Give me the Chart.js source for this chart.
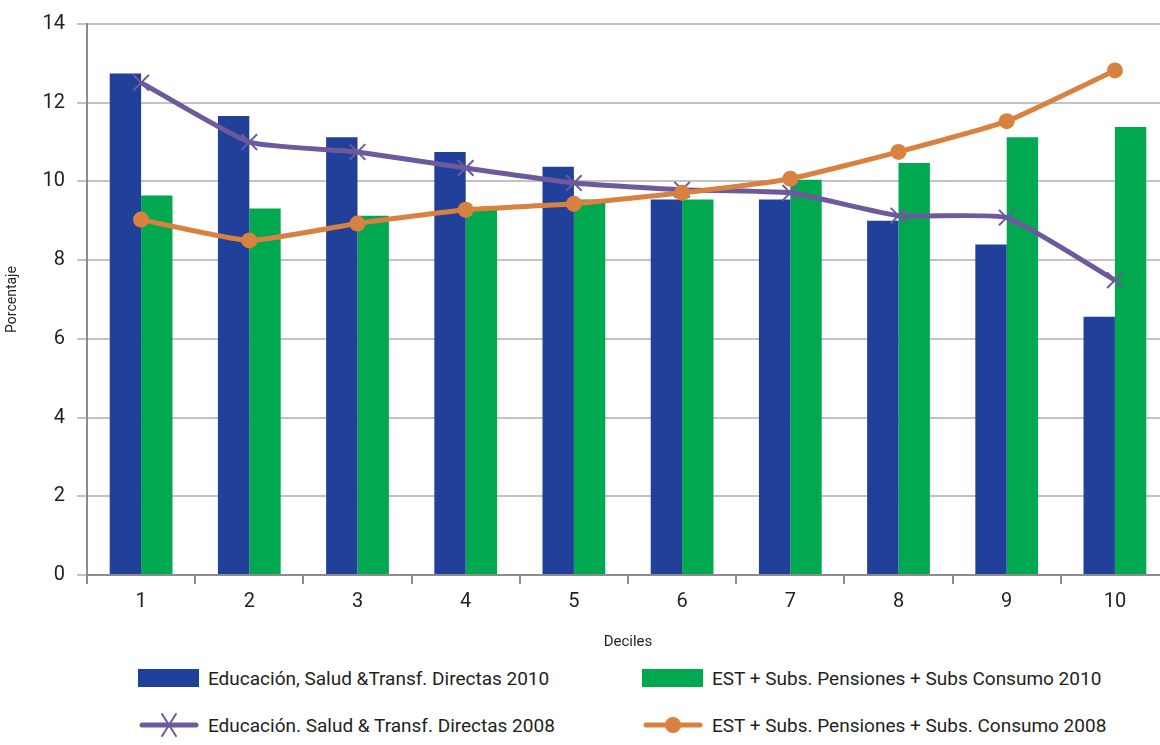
<!DOCTYPE html>
<html>
<head>
<meta charset="utf-8">
<script src="https://cdn.jsdelivr.net/npm/chart.js@4/dist/chart.umd.min.js"></script>
<style>
  html, body { margin: 0; padding: 0; background: #fff; overflow: hidden; }
  body { width: 1160px; height: 745px; position: relative; font-family: 'Roboto', sans-serif; }
  #wrap { position: absolute; left: 0; top: 0; width: 1182px; height: 655px; }
  #chart { display: block; width: 1182px; height: 655px; }
  #legend { position: absolute; left: 0; top: 665px; width: 1160px; height: 80px; }
  .item { position: absolute; display: flex; align-items: center; font-size: 19px; color: #231f20; white-space: nowrap; }
  .item canvas { margin-right: 8px; }
</style>
</head>
<body>
<div id="wrap"><canvas id="chart" width="1182" height="655"></canvas></div>
<div id="legend"></div>
<script>
const deciles = ['1', '2', '3', '4', '5', '6', '7', '8', '9', '10'];
const edu2010 = [12.74, 11.66, 11.12, 10.75, 10.37, 9.54, 9.54, 9.0, 8.4, 6.56];
const est2010 = [9.64, 9.31, 9.13, 9.28, 9.54, 9.54, 10.04, 10.47, 11.12, 11.38];
const edu2008 = [12.51, 11.0, 10.75, 10.34, 9.96, 9.79, 9.71, 9.13, 9.08, 7.49];
const est2008 = [9.03, 8.5, 8.93, 9.28, 9.43, 9.71, 10.07, 10.75, 11.53, 12.82];
const yTicks = [0, 2, 4, 6, 8, 10, 12, 14];

const labels = [
    'Educación, Salud &Transf. Directas 2010',
    'EST + Subs. Pensiones + Subs Consumo 2010',
    'Educación. Salud & Transf. Directas 2008',
    'EST + Subs. Pensiones + Subs. Consumo 2008'
];
const blue = '#21409a', green = '#00a84f', purple = '#6c5a9c', orange = '#d98140';
const axisGray = '#8c8c8e', gridGray = '#c3c3c7';
const font = "'Roboto', sans-serif";

const ctx = document.getElementById('chart').getContext('2d');
const chart = new Chart(ctx, {
    type: 'bar',
    data: {
        labels: deciles,
        datasets: [
            { label: labels[0], data: edu2010, backgroundColor: blue, order: 2,
              categoryPercentage: 0.58, barPercentage: 1 },
            { label: labels[1], data: est2010, backgroundColor: green, order: 2,
              categoryPercentage: 0.58, barPercentage: 1 },
            { type: 'line', label: labels[2], data: edu2008, borderColor: purple, borderWidth: 5,
              pointStyle: 'crossRot', pointRadius: 11, pointBorderWidth: 2, pointBorderColor: purple,
              pointBackgroundColor: purple, tension: 0.15, order: 1 },
            { type: 'line', label: labels[3], data: est2008, borderColor: orange, borderWidth: 5,
              pointStyle: 'circle', pointRadius: 8, pointBorderWidth: 0, pointBackgroundColor: orange,
              tension: 0.15, order: 0 }
        ]
    },
    options: {
        responsive: false,
        animation: false,
        layout: { padding: { top: 18, right: 3, left: 0, bottom: 0 } },
        plugins: { legend: { display: false }, tooltip: { enabled: false } },
        scales: {
            x: {
                offset: true,
                grid: { offset: true, drawOnChartArea: false, drawTicks: true, tickLength: 9, color: axisGray, lineWidth: 2 },
                border: { color: axisGray, width: 2 },
                ticks: { color: '#231f20', font: { family: font, size: 20 }, padding: 6 },
                title: { display: true, text: 'Deciles', color: '#231f20', font: { family: font, size: 15 }, padding: { top: 8 } },
                afterFit: s => { s.height = 80; }
            },
            y: {
                min: 0, max: 14,
                afterBuildTicks: s => { s.ticks = yTicks.map(v => ({ value: v })); },
                grid: { color: gridGray, lineWidth: 2, tickLength: 10, tickColor: gridGray },
                border: { color: axisGray, width: 2 },
                ticks: { color: '#231f20', font: { family: font, size: 20 }, padding: 12 },
                title: { display: true, text: 'Porcentaje', color: '#231f20', font: { family: font, size: 14 }, padding: { bottom: 4 } },
                afterFit: s => { s.width = 87; }
            }
        }
    }
});

// legend in two columns, symbols drawn like the chart marks
const legend = document.getElementById('legend');
const spots = [[138, 0], [642, 0], [138, 47], [642, 47]];
const marks = [
    { kind: 'box', color: blue },
    { kind: 'box', color: green },
    { kind: 'line', color: purple, marker: 'x' },
    { kind: 'line', color: orange, marker: 'dot' }
];
labels.forEach((text, i) => {
    const div = document.createElement('div');
    div.className = 'item';
    div.style.left = spots[i][0] + 'px';
    div.style.top = spots[i][1] + 'px';
    const c = document.createElement('canvas');
    c.width = 62; c.height = 26;
    const g = c.getContext('2d');
    const m = marks[i];
    if (m.kind === 'box') {
        g.fillStyle = m.color;
        g.fillRect(0, 4, 61, 18);
    } else {
        g.strokeStyle = m.color;
        g.lineCap = 'round';
        g.lineWidth = 5;
        g.beginPath(); g.moveTo(4, 13); g.lineTo(58, 13); g.stroke();
        if (m.marker === 'x') {
            g.lineWidth = 2;
            g.beginPath();
            g.moveTo(24, 2); g.lineTo(38, 24);
            g.moveTo(38, 2); g.lineTo(24, 24);
            g.stroke();
        } else {
            g.fillStyle = m.color;
            g.beginPath(); g.arc(31, 13, 8, 0, Math.PI * 2); g.fill();
        }
    }
    div.appendChild(c);
    const span = document.createElement('span');
    span.textContent = text;
    div.appendChild(span);
    legend.appendChild(div);
});
</script>
</body>
</html>
